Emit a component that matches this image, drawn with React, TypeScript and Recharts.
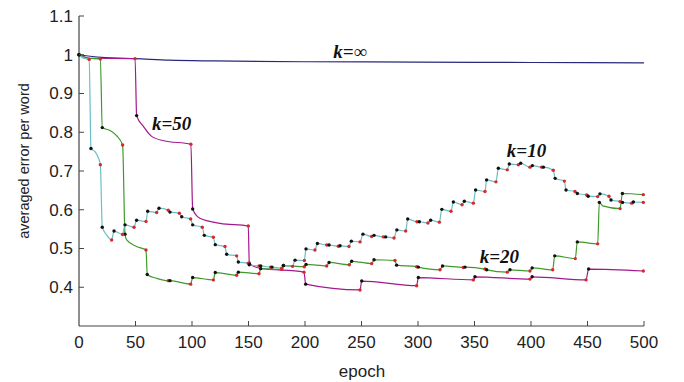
import { LineChart, Line, XAxis, YAxis, ReferenceDot, Label } from "recharts"

// [epoch, averaged error, mark]  mark: "b" black dot, "r" red dot, "" no dot
type Pt = [number, number, string]

const xTicks = [0, 50, 100, 150, 200, 250, 300, 350, 400, 450, 500]
const yTicks = [0.4, 0.5, 0.6, 0.7, 0.8, 0.9, 1, 1.1]

const kInf: Pt[] = [
    [0, 1.0, ""], [20, 0.993, ""], [50, 0.99, ""], [80, 0.986, ""], [120, 0.984, ""],
    [200, 0.982, ""], [300, 0.981, ""], [400, 0.98, ""], [500, 0.979, ""],
]

const k50: Pt[] = [
    [0, 1.0, "b"], [10, 0.991, ""], [49.6, 0.99, "r"],
    [51, 0.843, "b"], [57, 0.815, ""], [64, 0.79, ""], [75, 0.778, ""], [99, 0.769, "r"],
    [100.6, 0.602, "b"], [107, 0.578, ""], [125, 0.565, ""], [149.8, 0.558, "r"],
    [150.7, 0.462, "b"], [160, 0.449, ""], [199.1, 0.439, "r"],
    [200.6, 0.408, "b"], [248.7, 0.393, "r"],
    [250.2, 0.416, "b"], [298.8, 0.404, "r"],
    [300.3, 0.425, "b"], [349, 0.419, "r"],
    [350.4, 0.427, "b"], [399.1, 0.421, "r"],
    [401, 0.427, "b"], [448.7, 0.419, "r"],
    [451, 0.447, "b"], [499.4, 0.442, "r"],
]

const k20: Pt[] = [
    [0, 1.0, "b"], [8, 0.991, ""], [18.9, 0.989, "r"],
    [20.6, 0.812, "b"], [27, 0.805, ""], [33, 0.792, ""], [38.6, 0.767, "r"],
    [40.7, 0.537, "b"], [42.2, 0.522, ""], [51, 0.505, ""], [59.3, 0.496, "r"],
    [60.4, 0.433, "b"], [68.7, 0.423, ""], [79, 0.417, "r"],
    [80.5, 0.417, "b"], [98.8, 0.408, "r"],
    [100.6, 0.425, "b"], [118.9, 0.419, "r"],
    [120.6, 0.438, "b"], [139.5, 0.431, "r"],
    [141, 0.439, "b"], [159.3, 0.435, "r"],
    [160.8, 0.448, "b"], [179.4, 0.446, "r"],
    [180.9, 0.456, "b"], [199.4, 0.453, "r"],
    [200.9, 0.459, "b"], [219.2, 0.455, "r"],
    [221.3, 0.464, "b"], [239.2, 0.458, "r"],
    [241.3, 0.467, "b"], [259, 0.461, "r"],
    [261.1, 0.471, "b"], [279.6, 0.469, "r"],
    [281.1, 0.457, "b"], [298.8, 0.453, "r"],
    [300.3, 0.452, "b"], [319.5, 0.445, "r"],
    [321.7, 0.455, "b"], [340.1, 0.451, "r"],
    [341.6, 0.452, "b"], [359.3, 0.447, "r"],
    [360.8, 0.445, "b"], [379, 0.439, "r"],
    [381.4, 0.445, "b"], [399.1, 0.442, "r"],
    [401, 0.45, "b"], [419.2, 0.445, "r"],
    [421, 0.481, "b"], [439.2, 0.474, "r"],
    [441, 0.517, "b"], [459, 0.512, "r"],
    [460.5, 0.619, "b"], [463.5, 0.61, ""], [478.8, 0.603, "r"],
    [480.9, 0.642, "b"], [499.4, 0.639, "r"],
]

const k10: Pt[] = [
    [0, 1.0, "b"], [4, 0.991, ""], [9, 0.988, "r"],
    [10.6, 0.758, "b"], [14.2, 0.75, ""], [17, 0.735, ""], [18.9, 0.716, "r"],
    [20.6, 0.555, "b"], [24.5, 0.535, ""], [28.9, 0.522, "r"],
    [31, 0.545, "b"], [38.6, 0.536, "r"],
    [40.7, 0.561, "b"], [48.7, 0.555, "r"],
    [51, 0.573, "b"], [59.3, 0.57, "r"],
    [60.8, 0.596, "b"], [68.7, 0.593, "r"],
    [70.8, 0.604, "b"], [79, 0.599, "r"],
    [80.5, 0.594, "b"], [88.8, 0.591, "r"],
    [90.9, 0.582, "b"], [98.8, 0.576, "r"],
    [100.6, 0.561, "b"], [109.1, 0.555, "r"],
    [110.9, 0.534, "b"], [118.9, 0.529, "r"],
    [120.6, 0.51, "b"], [129.2, 0.505, "r"],
    [130.7, 0.485, "b"], [139.5, 0.481, "r"],
    [141, 0.465, "b"], [149.8, 0.462, "r"],
    [150.7, 0.458, "b"], [159.3, 0.455, "r"],
    [160.8, 0.455, "b"], [169.6, 0.452, "r"],
    [170.8, 0.452, "b"], [179.4, 0.449, "r"],
    [180.9, 0.456, "b"], [189, 0.454, "r"],
    [191.2, 0.47, "b"], [199.4, 0.469, "r"],
    [200.9, 0.499, "b"], [208.8, 0.496, "r"],
    [211, 0.513, "b"], [219.2, 0.509, "r"],
    [221.3, 0.509, "b"], [229.5, 0.506, "r"],
    [231, 0.507, "b"], [238.9, 0.505, "r"],
    [241, 0.519, "b"], [248.7, 0.517, "r"],
    [251.3, 0.537, "b"], [259, 0.531, "r"],
    [261.1, 0.534, "b"], [269.3, 0.53, "r"],
    [271.4, 0.53, "b"], [278.8, 0.527, "r"],
    [281.3, 0.548, "b"], [289.1, 0.545, "r"],
    [290.9, 0.576, "b"], [299.1, 0.569, "r"],
    [301.2, 0.569, "b"], [308.8, 0.566, "r"],
    [311.2, 0.573, "b"], [318.9, 0.568, "r"],
    [321.1, 0.601, "b"], [329.2, 0.596, "r"],
    [331.3, 0.62, "b"], [339, 0.613, "r"],
    [341, 0.622, "b"], [349, 0.617, "r"],
    [351, 0.651, "b"], [359.3, 0.647, "r"],
    [360.7, 0.677, "b"], [369, 0.672, "r"],
    [371.1, 0.707, "b"], [379, 0.703, "r"],
    [380.8, 0.718, "b"], [388.8, 0.716, "r"],
    [390.9, 0.72, "b"], [399.1, 0.71, "r"],
    [401.2, 0.714, "b"], [409.4, 0.71, "r"],
    [411, 0.71, "b"], [419.7, 0.702, "r"],
    [421.4, 0.681, "b"], [429.5, 0.674, "r"],
    [431, 0.651, "b"], [438.9, 0.647, "r"],
    [441, 0.642, "b"], [449.3, 0.638, "r"],
    [450.6, 0.635, "b"], [459, 0.634, "r"],
    [461, 0.641, "b"], [469, 0.635, "r"],
    [470.8, 0.625, "b"], [478.8, 0.621, "r"],
    [481, 0.619, "b"], [489.1, 0.617, "r"],
    [490.6, 0.62, "b"], [499.4, 0.619, "r"],
]

// curve labels: [epoch, error, text]
const curveLabels: [number, number, string][] = [
    [240, 0.992, "=∞"],
    [82, 0.806, "=50"],
    [396, 0.736, "=10"],
    [372, 0.463, "=20"],
]

const toRows = (pts: Pt[]) => pts.map(([epoch, err, mark]) => ({ epoch, err, mark }))

const series = [
    { name: "k=inf", pts: kInf, color: "#29287c", dots: false },
    { name: "k=50", pts: k50, color: "#a3188e", dots: true },
    { name: "k=20", pts: k20, color: "#3f9a2c", dots: true },
    { name: "k=10", pts: k10, color: "#68bfc6", dots: true },
]

const axisColor = "#444"
const sans = "'Liberation Sans', Arial, sans-serif"

const renderDot = (props: any) => {
    const { cx, cy, payload, index } = props
    if (!payload || !payload.mark) return <g key={index} />
    return <circle key={index} cx={cx} cy={cy} r={1.7} fill={payload.mark === "r" ? "#d62a2a" : "#111"} />
}

const XTick = (props: any) => {
    const { x, y, payload } = props
    return (
        <g>
            {payload.value > 0 && <line x1={x} x2={x} y1={y} y2={y - 5} stroke={axisColor} />}
            <text x={x} y={y + 22} textAnchor="middle" fontSize={17} fontFamily={sans} fill="#222">
                {payload.value}
            </text>
        </g>
    )
}

const YTick = (props: any) => {
    const { x, y, payload } = props
    return (
        <g>
            <line x1={x} x2={x + 5} y1={y} y2={y} stroke={axisColor} />
            <text x={x - 6} y={y} dy="0.35em" textAnchor="end" fontSize={17} fontFamily={sans} fill="#222">
                {String(Math.round(payload.value * 10) / 10)}
            </text>
        </g>
    )
}

export default function App() {
    return (
        <div style={{ width: 676, height: 374 }}>
            <LineChart width={676} height={374} margin={{ top: 8, right: 40, left: 0, bottom: 0 }}>
                <XAxis
                    dataKey="epoch"
                    type="number"
                    domain={[0, 500]}
                    ticks={xTicks}
                    interval={0}
                    height={56}
                    tickSize={0}
                    tickMargin={0}
                    tickLine={false}
                    axisLine={{ stroke: axisColor, strokeWidth: 1.2 }}
                    tick={<XTick />}
                >
                    <Label
                        content={() => (
                            <text x={354} y={369} textAnchor="middle" fontSize={17} fontFamily={sans} fill="#222">
                                epoch
                            </text>
                        )}
                    />
                </XAxis>
                <YAxis
                    type="number"
                    domain={[0.3, 1.1]}
                    ticks={yTicks}
                    interval={0}
                    width={71}
                    tickSize={0}
                    tickMargin={0}
                    tickLine={false}
                    axisLine={{ stroke: axisColor, strokeWidth: 1.2 }}
                    tick={<YTick />}
                >
                    <Label
                        content={() => (
                            <text
                                x={21}
                                y={153}
                                transform="rotate(-90 21 153)"
                                textAnchor="middle"
                                fontSize={14.5}
                                fontFamily={sans}
                                fill="#222"
                            >
                                averaged error per word
                            </text>
                        )}
                    />
                </YAxis>
                {series.map((s) => (
                    <Line
                        key={s.name}
                        data={toRows(s.pts)}
                        dataKey="err"
                        type="monotone"
                        stroke={s.color}
                        strokeWidth={1.2}
                        dot={s.dots ? renderDot : false}
                        activeDot={false}
                        isAnimationActive={false}
                    />
                ))}
                {curveLabels.map(([e, v, t]) => (
                    <ReferenceDot
                        key={t}
                        x={e}
                        y={v}
                        r={1}
                        shape={(p: any) => (
                            <text
                                x={p.cx}
                                y={p.cy}
                                textAnchor="middle"
                                fontFamily="'Liberation Serif', 'Times New Roman', serif"
                                fontWeight="bold"
                                fontStyle="italic"
                                fontSize={19}
                                fill="#111"
                            >
                                k{t}
                            </text>
                        )}
                    />
                ))}
            </LineChart>
        </div>
    )
}
